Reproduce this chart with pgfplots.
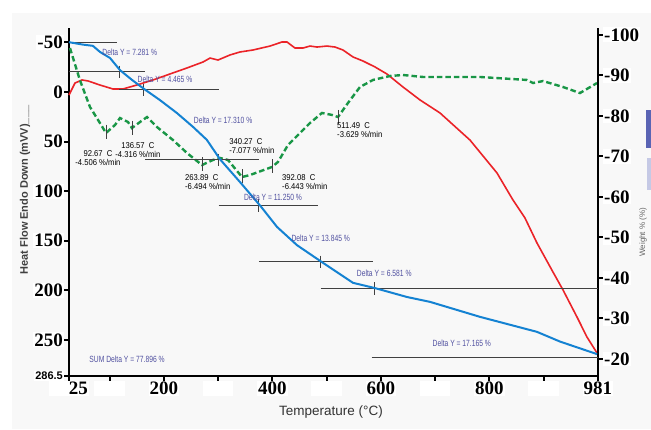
\documentclass[border=0pt]{standalone}
\usepackage{fontspec}
\setmainfont{Liberation Serif}
\newfontfamily\arial{Liberation Sans}
\usepackage{graphicx}
\usepackage{pgfplots}
\pgfplotsset{compat=1.18}

\definecolor{tgblue}{RGB}{20,130,210}
\definecolor{dtared}{RGB}{235,35,40}
\definecolor{dtggreen}{RGB}{25,150,70}
\definecolor{deltablue}{RGB}{80,80,160}
\definecolor{bgray}{RGB}{248,248,248}
\definecolor{legblue}{RGB}{90,100,180}

\pgfplotsset{
  common/.style={
    scale only axis, width=529pt, height=348pt,
    at={(0,0)}, anchor=south west,
    xmin=25, xmax=1000, y dir=reverse,
    axis line style={line width=2.5pt, black},
    tick style={line width=2pt, black},
    major tick length=5pt, tick align=outside,
    tick label style={font=\fontsize{19}{20}\selectfont\bfseries, fill=white, inner sep=1pt},
    clip=false,
  },
}
\tikzset{
  dlab/.style={font=\arial\fontsize{9}{10}\selectfont, text=deltablue, inner sep=0pt},
  tlab/.style={font=\arial\fontsize{8.5}{9.5}\selectfont, inner sep=0pt},
}

\begin{document}
\begin{tikzpicture}
\fill[bgray] (-57pt,-53pt) rectangle (582pt,363pt);
\path[use as bounding box] (-69pt,-53pt) rectangle (582pt,376pt);

% ---------- left axis: heat flow (red) and DTG (green) ----------
\begin{axis}[common,
  ymin=-64.5, ymax=286.5,
  axis x line*=bottom, axis y line*=left,
  xtick={25,100,200,300,400,500,600,700,800,900,1000},
  xticklabels={{\phantom{00}25},{\phantom{300}},200,{\phantom{300}},400,{\phantom{300}},600,{\phantom{300}},800,{\phantom{300}},981},
  ytick={-50,0,50,100,150,200,250,286.5},
  yticklabels={-50,0,50,100,150,200,250,{\arial\fontsize{11}{12}\selectfont 286.5}},
]
% DTA (red)
\addplot[dtared, line width=1.6pt] coordinates {
(25,3.1) (36,-9.0) (49,-12.1) (60,-11.1) (82,-7.0) (106,-3.0) (124.5,-3.0)
(150,-7.0) (180,-12.1) (211,-18.1) (242.5,-24.2) (272,-30.2) (285,-34.2)
(299.6,-32.2) (321.7,-37.3) (340,-40.3) (364,-42.3) (395.5,-46.3) (417.6,-50.4)
(426.8,-50.4) (441.5,-44.3) (456.3,-44.3) (469.2,-46.3) (482,-45.3) (500.5,-46.3)
(515.3,-45.3) (530,-42.3) (548.4,-35.3) (566.9,-31.2) (589,-25.2) (611,-18.1)
(640.6,-5.0) (672,8.1) (708.8,21.2) (764,48.5) (813.8,81.7) (843.3,109)
(865.4,127.1) (887.5,152.3) (917,181.6) (935.5,199.7) (961.3,227.0) (979.7,247.2)
(998.2,263.3)
};
% DTG (green dashed)
\addplot[dtggreen, line width=2.4pt, dash pattern=on 5.5pt off 3pt] coordinates {
(26.8,-44.3) (45,-12.1) (63.7,15.2) (82,31.3) (93.2,41.4) (109.8,33.3) (119,26.3)
(133.7,30.3) (141,36.4) (155.9,30.3) (168.8,25.3) (187.2,35.4) (216.7,48.5)
(242.5,61.6) (270.1,73.7) (290.4,68.6) (303.3,66.6) (318,68.6) (343.9,85.8)
(358.6,83.8) (399.1,75.7) (410.2,70.6) (428.6,53.5) (450.8,41.4) (469.2,31.3)
(491.3,21.2) (509.7,23.2) (520.8,25.3) (539.2,11.1) (561.3,-5.0) (585.3,-12.1)
(616.6,-16.1) (640.6,-17.1) (677.5,-15.1) (708.8,-15.1) (782.5,-15.1) (869.1,-12.1)
(880.2,-9.0) (898.6,-11.0) (935.5,-5.0) (966.8,1.1) (998.2,-9.0)
};
% DTG peak ticks
\addplot[black!75, line width=0.8pt] coordinates {(93.2,33) (93.2,47)};
\addplot[black!75, line width=0.8pt] coordinates {(141,29) (141,43)};
\addplot[black!75, line width=0.8pt] coordinates {(270.1,66) (270.1,80)};
\addplot[black!75, line width=0.8pt] coordinates {(343.9,78) (343.9,92)};
\addplot[black!75, line width=0.8pt] coordinates {(399.1,68) (399.1,82)};
\addplot[black!75, line width=0.8pt] coordinates {(520.8,18) (520.8,32)};
% DTG annotations
\node[tlab, align=center] at (axis cs:78.4,66.6) {\scalebox{0.9}[1]{92.67~~C}\\\scalebox{0.9}[1]{-4.506 \%/min}};
\node[tlab, align=center] at (axis cs:152,58.5) {\scalebox{0.9}[1]{136.57~~C}\\\scalebox{0.9}[1]{-4.316 \%/min}};
\node[tlab, align=left, anchor=west] at (axis cs:238.8,90.8) {\scalebox{0.9}[1]{263.89~~C}\\\scalebox{0.9}[1]{-6.494 \%/min}};
\node[tlab, align=left, anchor=west] at (axis cs:320,54.5) {\scalebox{0.9}[1]{340.27~~C}\\\scalebox{0.9}[1]{-7.077 \%/min}};
\node[tlab, align=left, anchor=west] at (axis cs:417.6,90.8) {\scalebox{0.9}[1]{392.08~~C}\\\scalebox{0.9}[1]{-6.443 \%/min}};
\node[tlab, align=left, anchor=west] at (axis cs:519,38.4) {\scalebox{0.9}[1]{511.49~~C}\\\scalebox{0.9}[1]{-3.629 \%/min}};
% axis titles
\node[xshift=-44pt, rotate=90, font=\arial\bfseries\fontsize{11}{12}\selectfont, text=black!75]
  at (axis cs:25,98.9) {Heat Flow Endo Down (mVV)\_\_\_};
\node[yshift=-36pt, font=\arial\fontsize{13.5}{14}\selectfont, text=black!80]
  at (axis cs:507.9,286.5) {Temperature (°C)};
\end{axis}

% ---------- right axis: weight (blue) ----------
\begin{axis}[common,
  ymin=-101.7, ymax=-15.8,
  axis x line=none, axis y line*=right,
  ytick={-100,-90,-80,-70,-60,-50,-40,-30,-20},
  yticklabels={-100,-90,-80,-70,-60,-50,-40,-30,-20},
]
% step lines
\addplot[black!75, line width=1.2pt] coordinates {(25,-98.2) (113,-98.2)};
\addplot[black!75, line width=1.2pt] coordinates {(25,-90.919) (165,-90.919)};
\addplot[black!75, line width=1.2pt] coordinates {(117,-86.454) (301,-86.454)};
\addplot[black!75, line width=1.2pt] coordinates {(165,-69.144) (375,-69.144)};
\addplot[black!75, line width=1.2pt] coordinates {(301,-57.894) (484,-57.894)};
\addplot[black!75, line width=1.2pt] coordinates {(375,-44.049) (585,-44.049)};
\addplot[black!75, line width=1.2pt] coordinates {(489,-37.468) (1000,-37.468)};
\addplot[black!75, line width=1.2pt] coordinates {(583,-20.303) (1000,-20.303)};
% crossing ticks
\addplot[black!75, line width=0.8pt] coordinates {(117,-92.4) (117,-89.4)};
\addplot[black!75, line width=0.8pt] coordinates {(163,-87.9) (163,-84.9)};
\addplot[black!75, line width=0.8pt] coordinates {(301,-70.6) (301,-67.6)};
\addplot[black!75, line width=0.8pt] coordinates {(375,-59.4) (375,-56.4)};
\addplot[black!75, line width=0.8pt] coordinates {(489,-45.5) (489,-42.5)};
\addplot[black!75, line width=0.8pt] coordinates {(587,-38.9) (587,-35.9)};
% TG (blue)
\addplot[tgblue, line width=2pt] coordinates {
(25,-98.2) (50.8,-97.6) (69,-97.3) (82,-95.8) (100.6,-94.3) (119,-91.3) (141,-88.9)
(165,-86.5) (192.7,-83.9) (224,-80.7) (253.5,-77.3) (279,-74.1) (303.3,-69.3)
(340,-63.7) (378.9,-57.6) (408.4,-52.6) (445.2,-48.1) (491.3,-43.9) (548.4,-38.8)
(589,-37.5) (648,-35.3) (690.4,-34.1) (782.5,-30.4) (887.5,-26.7) (930,-24.3)
(998.2,-21.2)
};
% delta labels
\node[dlab] at (axis cs:137,-95.8) {\scalebox{0.75}[1]{Delta Y = 7.281 \%}};
\node[dlab] at (axis cs:202,-89.1) {\scalebox{0.75}[1]{Delta Y = 4.465 \%}};
\node[dlab] at (axis cs:309,-78.8) {\scalebox{0.75}[1]{Delta Y = 17.310 \%}};
\node[dlab] at (axis cs:401,-59.8) {\scalebox{0.75}[1]{Delta Y = 11.250 \%}};
\node[dlab] at (axis cs:489,-49.9) {\scalebox{0.75}[1]{Delta Y = 13.845 \%}};
\node[dlab] at (axis cs:606,-41.2) {\scalebox{0.75}[1]{Delta Y = 6.581 \%}};
\node[dlab] at (axis cs:749,-24.0) {\scalebox{0.75}[1]{Delta Y = 17.165 \%}};
\node[dlab] at (axis cs:132,-20.0) {\scalebox{0.75}[1]{SUM Delta Y = 77.896 \%}};
\node[xshift=45pt, rotate=90, font=\arial\fontsize{8}{9}\selectfont, text=black!60]
  at (axis cs:1000,-51.3) {Weight \% (\%)};
\end{axis}
\fill[legblue] (577pt,228pt) rectangle (582pt,266pt);
\fill[legblue!35] (578pt,186pt) rectangle (582pt,218pt);
\end{tikzpicture}
\end{document}
